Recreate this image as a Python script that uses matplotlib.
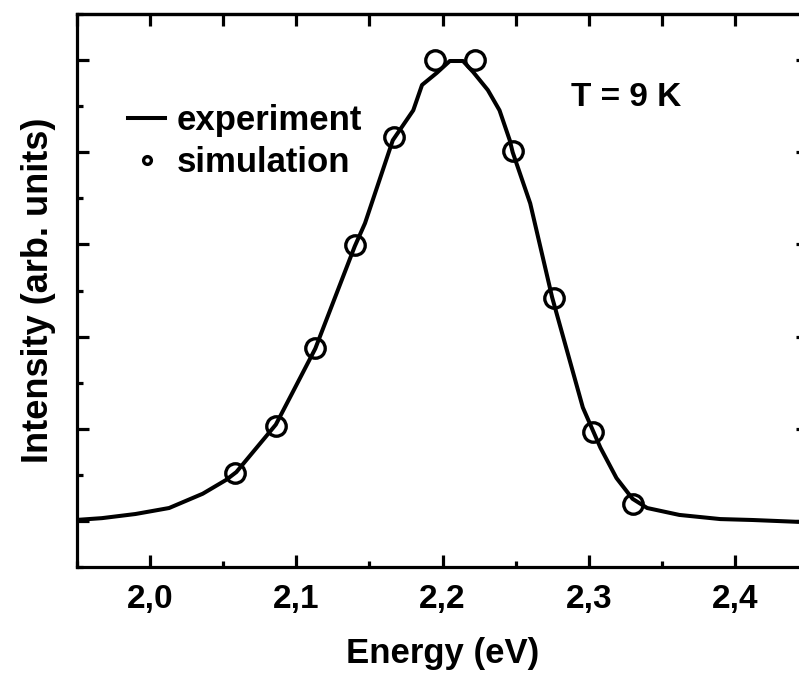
import matplotlib
matplotlib.use("Agg")
import matplotlib.pyplot as plt
from matplotlib.ticker import MultipleLocator, FuncFormatter

# experiment
energy_exp = [1.949, 1.967, 1.990, 2.013, 2.036, 2.052, 2.059, 2.086, 2.097, 2.113,
              2.140, 2.147, 2.166, 2.180, 2.186, 2.196, 2.205, 2.214, 2.221, 2.231,
              2.239, 2.246, 2.248, 2.260, 2.275, 2.296, 2.308, 2.319, 2.330, 2.340,
              2.362, 2.390, 2.412, 2.443, 2.450]
intensity_exp = [0.002, 0.006, 0.015, 0.028, 0.059, 0.089, 0.106, 0.209, 0.276, 0.374,
                 0.596, 0.646, 0.826, 0.891, 0.946, 0.972, 0.998, 0.998, 0.974, 0.935,
                 0.891, 0.826, 0.800, 0.689, 0.485, 0.246, 0.159, 0.093, 0.048, 0.028,
                 0.013, 0.004, 0.002, -0.002, -0.002]

# simulation
energy_sim = [2.058, 2.086, 2.113, 2.140, 2.167, 2.195, 2.222, 2.248, 2.276, 2.303, 2.330]
intensity_sim = [0.104, 0.207, 0.376, 0.598, 0.833, 1.0, 1.0, 0.802, 0.483, 0.193, 0.037]

plt.rcParams["font.family"] = ["Liberation Sans", "DejaVu Sans"]
plt.rcParams["font.weight"] = "bold"

W, H = 799, 679
fig = plt.figure(figsize=(W / 100, H / 100), dpi=100)
ax = fig.add_axes([77 / W, (H - 567) / H, (808 - 77) / W, (567 - 14) / H])

ax.plot(energy_exp, intensity_exp, color="black", lw=2.9, solid_joinstyle="round",
        label="experiment")
ax.plot(energy_sim, intensity_sim, ls="none", marker="o", ms=14, mfc="none",
        mec="black", mew=2.4, label="simulation")

ax.set_xlim(1.95, 2.45)
ax.set_ylim(-0.1, 1.1)
ax.xaxis.set_major_locator(MultipleLocator(0.1))
ax.xaxis.set_minor_locator(MultipleLocator(0.05))
ax.yaxis.set_major_locator(MultipleLocator(0.2))
ax.yaxis.set_minor_locator(MultipleLocator(0.1))
ax.xaxis.set_major_formatter(FuncFormatter(lambda v, p: f"{v:.1f}".replace(".", ",")))
ax.yaxis.set_major_formatter(FuncFormatter(lambda v, p: ""))

ax.tick_params(which="both", direction="in", width=2.3, top=False, right=True,
               labelsize=24, pad=12)
ax.tick_params(which="major", length=8.5)
ax.tick_params(which="minor", length=4.5)
for s in ax.spines.values():
    s.set_linewidth(2.3)

# top ticks all the same length
top = ax.secondary_xaxis("top")
top.xaxis.set_major_locator(MultipleLocator(0.05))
top.tick_params(direction="in", length=8.5, width=2.3, labeltop=False)
top.spines["top"].set_linewidth(2.3)

ax.set_xlabel("Energy (eV)", fontsize=25, fontweight="bold", labelpad=16)
ax.set_ylabel("Intensity (arb. units)", fontsize=26, fontweight="bold", labelpad=3)

ax.text(571 / W, 1 - 98 / H, "T = 9 K", transform=fig.transFigure, fontsize=24,
        fontweight="bold", va="center", ha="left")

leg = ax.legend(loc="upper left", bbox_to_anchor=(111 / W, 1 - 87 / H),
                bbox_transform=fig.transFigure, frameon=False, fontsize=25,
                handlelength=1.05, handletextpad=0.35, labelspacing=0.25,
                borderpad=0, markerscale=0.4)
for t in leg.get_texts():
    t.set_fontweight("bold")

fig.savefig("out.png", dpi=100)
